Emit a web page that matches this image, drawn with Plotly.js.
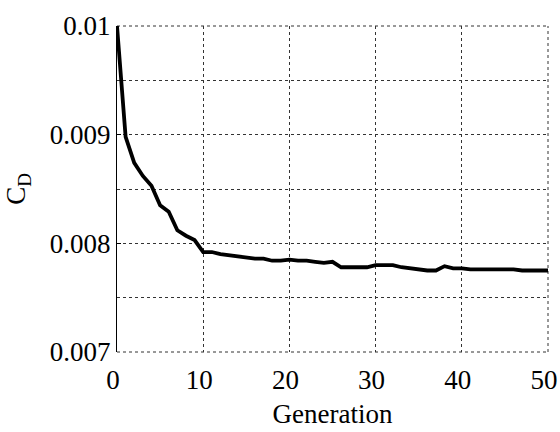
<!DOCTYPE html>
<html>
<head>
<meta charset="utf-8">
<script src="https://cdn.plot.ly/plotly-3.0.1.min.js"></script>
<style>html,body{margin:0;padding:0;background:#fff;}#chart{width:560px;height:432px;}</style>
</head>
<body>
<div id="chart"></div>
<script>
var generation = [0,1,2,3,4,5,6,7,8,9,10,11,12,13,14,15,16,17,18,19,20,21,22,23,24,25,26,27,28,29,30,31,32,33,34,35,36,37,38,39,40,41,42,43,44,45,46,47,48,49,50];
var cd = [0.01000,0.00898,0.00874,0.00862,0.00853,0.00835,0.00829,0.00812,0.00807,0.00803,
          0.00792,0.00792,0.00790,0.00789,0.00788,0.00787,0.00786,0.00786,0.00784,0.00784,
          0.00785,0.00784,0.00784,0.00783,0.00782,0.00783,0.00778,0.00778,0.00778,0.00778,
          0.00780,0.00780,0.00780,0.00778,0.00777,0.00776,0.00775,0.00775,0.00779,0.00777,
          0.00777,0.00776,0.00776,0.00776,0.00776,0.00776,0.00776,0.00775,0.00775,0.00775,0.00775];
var xTicks = [0,10,20,30,40,50];
var yTicks = [0.007,0.008,0.009,0.01];
var yTickText = ['0.007','0.008','0.009','0.01'];

var font = {family:'"Liberation Serif", "Times New Roman", serif', size:27, color:'#000'};
var dotted = {color:'#333', width:1, dash:'dot'};

Plotly.newPlot('chart', [{
  x: generation, y: cd, type:'scatter', mode:'lines',
  line:{color:'#000', width:3.8}, cliponaxis:true
}], {
  width:560, height:432,
  margin:{l:117, r:12, t:26, b:80},
  paper_bgcolor:'#fff', plot_bgcolor:'#fff',
  showlegend:false,
  font: font,
  shapes:[
    {type:'line', xref:'paper', yref:'paper', x0:0, x1:1, y0:1, y1:1, line:dotted, layer:'below'},
    {type:'line', xref:'paper', yref:'paper', x0:0, x1:1, y0:0, y1:0, line:dotted, layer:'below'},
    {type:'line', xref:'paper', yref:'paper', x0:1, x1:1, y0:0, y1:1, line:dotted, layer:'below'}
  ],
  xaxis:{
    range:[0,50], tickvals:xTicks, ticktext:xTicks.map(String),
    showgrid:true, gridcolor:'#333', gridwidth:1, griddash:'dot',
    showline:false, zeroline:false, ticks:'', tickfont:font,
    ticklabeloverflow:'allow', ticklabelshift:-4, ticklabelstandoff:9,
    title:{text:'Generation', font:font, standoff:10}
  },
  yaxis:{
    range:[0.007,0.01], tickvals:yTicks, ticktext:yTickText,
    showgrid:true, gridcolor:'#333', gridwidth:1, griddash:'dot',
    minor:{dtick:0.0005, tick0:0.007, showgrid:true, gridcolor:'#333', gridwidth:1, griddash:'dot', ticks:''},
    showline:true, linecolor:'#000', linewidth:1, zeroline:false,
    ticks:'inside', ticklen:4, tickcolor:'#000', tickfont:font,
    ticklabeloverflow:'allow',
    title:{text:'C<sub>D</sub>', font:font, standoff:16}
  }
}, {displayModeBar:false, staticPlot:true});
</script>
</body>
</html>
